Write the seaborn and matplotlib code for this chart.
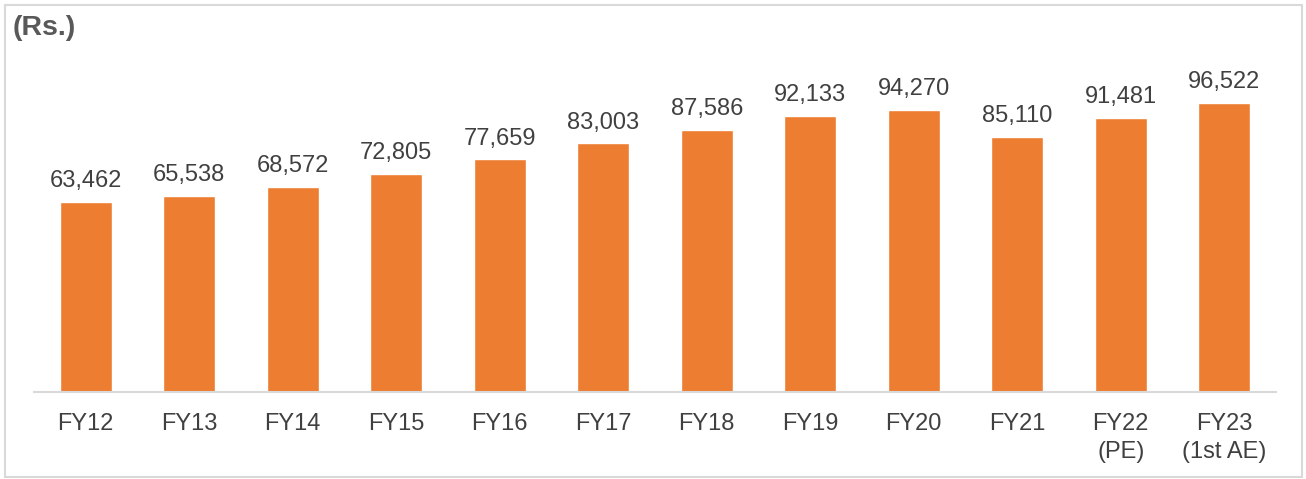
import pandas as pd
import matplotlib
matplotlib.use("Agg")
import matplotlib.pyplot as plt
import seaborn as sns

# per capita values
years = ['FY12', 'FY13', 'FY14', 'FY15', 'FY16', 'FY17', 'FY18', 'FY19',
         'FY20', 'FY21', 'FY22\n(PE)', 'FY23\n(1st AE)']
values = [63462, 65538, 68572, 72805, 77659, 83003, 87586, 92133,
          94270, 85110, 91481, 96522]

df = pd.DataFrame({'Year': years, 'Value': values})

BAR = '#ED7D31'
TXT = '#404040'

sns.set_theme(style='white')
plt.rcParams['font.family'] = ['Liberation Sans', 'DejaVu Sans']

W, H = 1306, 479
fig = plt.figure(figsize=(W / 100, H / 100), dpi=100)
ax = fig.add_axes([34 / W, 87 / H, (1276 - 34) / W, (392 - 45) / H])

sns.barplot(data=df, x='Year', y='Value', color=BAR, width=0.5,
            saturation=1, ax=ax)

ax.set_xlim(-0.5, len(years) - 0.5)
ax.set_ylim(0, 347 / 2.994 * 1000)

for i, v in enumerate(values):
    ax.annotate(f'{v:,}', (i, v), xytext=(0, 7), textcoords='offset points',
                ha='center', va='bottom', fontsize=17, color=TXT)

ax.set_xlabel('')
ax.set_ylabel('')
ax.set_yticks([])
ax.tick_params(axis='x', length=0, pad=15, labelsize=17, labelcolor=TXT)
for lbl in ax.get_xticklabels():
    lbl.set_linespacing(1.35)

for side in ['top', 'left', 'right']:
    ax.spines[side].set_visible(False)
ax.spines['bottom'].set_color('#D9D9D9')
ax.spines['bottom'].set_linewidth(1.5)

fig.text(13 / W, 1 - 35 / H, '(Rs.)', fontsize=20.5, fontweight='bold',
         color='#595959', ha='left', va='baseline')

# thin frame round the whole chart
fig.patches.append(plt.Rectangle((5 / W, 2 / H), (W - 9) / W, (H - 7) / H,
                                 transform=fig.transFigure, fill=False,
                                 edgecolor='#D9D9D9', linewidth=1.5))

fig.savefig('out.png', dpi=100)
